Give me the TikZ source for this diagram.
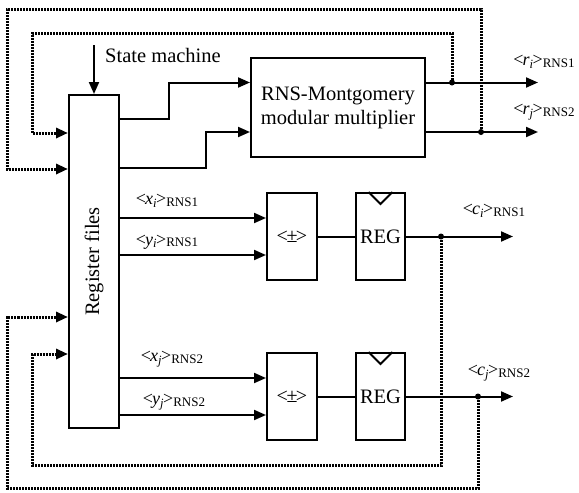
\documentclass[tikz,border=0pt]{standalone}
\usepackage{fontspec}
\setmainfont{Liberation Serif}
\usetikzlibrary{positioning,arrows.meta,calc}
\newcommand{\rnslab}[3]{{\fontsize{18}{20}\selectfont<\kern-1pt\textit{#1}\textsubscript{\textit{#2}}\kern-1pt>}{\fontsize{13}{15}\selectfont\raisebox{-1.5pt}{RNS#3}}}
\tikzset{
  sigarrow/.style={-{Triangle[length=12pt,width=10pt]}, line width=2pt},
  sigline/.style={line width=2pt},
  loopback/.style={-{Triangle[length=12pt,width=10pt]}, line width=3pt, dash pattern=on 2pt off 1pt},
  regfile/.style={draw, line width=2pt, minimum width=50pt, minimum height=333pt, inner sep=0pt, font=\fontsize{20.5}{24}\selectfont},
  mulbox/.style={draw, line width=2pt, minimum width=174pt, minimum height=99pt, align=center, font=\fontsize{20.5}{24}\selectfont},
  addbox/.style={draw, line width=2pt, minimum width=50pt, minimum height=87pt, inner sep=0pt, font=\fontsize{20}{22}\selectfont},
  regbox/.style={draw, line width=2pt, minimum width=49pt, minimum height=87pt, inner sep=0pt, font=\fontsize{20.5}{24}\selectfont},
  junction/.style={circle, fill, inner sep=0pt, minimum size=6pt},
  textlabel/.style={inner sep=0pt}
}
\begin{document}
\begin{tikzpicture}[x=1pt, y=-1pt]
  \useasboundingbox (0,0) rectangle (579,493);
  \node[regfile] (rf) at (94,261.5) {\rotatebox{90}{Register files}};
  \node[textlabel, anchor=west, font=\fontsize{20.5}{24}\selectfont] (sm) at (105,55) {State machine};
  \coordinate (smin) at (94,45);
  \draw[sigarrow] (smin) -- (rf.north);

  \node[mulbox] (mul) at (338,107.5) {RNS-Montgomery\\modular multiplier};
  \node[addbox] (addA) at (292,236.5) {<\kern-1.5pt±\kern-1.5pt>};
  \node[regbox] (regA) at (380.5,236.5) {REG};
  \node[addbox] (addB) at (292,396.5) {<\kern-1.5pt±\kern-1.5pt>};
  \node[regbox] (regB) at (380.5,396.5) {REG};

  \coordinate (mA) at ([yshift=25pt]mul.west);
  \coordinate (mB) at ([yshift=-24.5pt]mul.west);
  \draw[sigarrow] ([yshift=-25pt]rf.north east) -- ++(49,0) |- (mA);
  \draw[sigarrow] ([yshift=-74pt]rf.north east) -- ++(86,0) |- (mB);

  \coordinate (riout) at (538,82.5);
  \coordinate (rjout) at (538,132);
  \draw[sigarrow] ([yshift=25pt]mul.east) -- (riout);
  \draw[sigarrow] ([yshift=-24.5pt]mul.east) -- (rjout);
  \node[textlabel] (rilab) at (544,62) {\rnslab{r}{i}{1}};
  \node[textlabel] (rjlab) at (544,112) {\rnslab{r}{j}{2}};

  \coordinate (xiA) at ([yshift=18.5pt]addA.west);
  \coordinate (yiA) at ([yshift=-18.5pt]addA.west);
  \coordinate (xjB) at ([yshift=18.5pt]addB.west);
  \coordinate (yjB) at ([yshift=-18.5pt]addB.west);
  \draw[sigarrow] (rf.east |- xiA) -- (xiA);
  \draw[sigarrow] (rf.east |- yiA) -- (yiA);
  \draw[sigarrow] (rf.east |- xjB) -- (xjB);
  \draw[sigarrow] (rf.east |- yjB) -- (yjB);
  \node[textlabel] (xilab) at (167,201) {\rnslab{x}{i}{1}};
  \node[textlabel] (yilab) at (167,242) {\rnslab{y}{i}{1}};
  \node[textlabel] (xjlab) at (172,359) {\rnslab{x}{j}{2}};
  \node[textlabel] (yjlab) at (174,402) {\rnslab{y}{j}{2}};

  \draw[sigline] (addA) -- (regA);
  \draw[sigline] (addB) -- (regB);
  \draw[sigline] ([xshift=-12pt]regA.north) -- ([yshift=-12pt]regA.north) -- ([xshift=12pt]regA.north);
  \draw[sigline] ([xshift=-12pt]regB.north) -- ([yshift=-12pt]regB.north) -- ([xshift=12pt]regB.north);
  \coordinate (ciout) at (513,236.5);
  \coordinate (cjout) at (513,396.5);
  \draw[sigarrow] (regA) -- (ciout);
  \draw[sigarrow] (regB) -- (cjout);
  \node[textlabel] (cilab) at (494,211) {\rnslab{c}{i}{1}};
  \node[textlabel] (cjlab) at (499,373) {\rnslab{c}{j}{2}};

  \coordinate (inA) at ([yshift=128.5pt]rf.west);
  \coordinate (inB) at ([yshift=92.5pt]rf.west);
  \coordinate (inC) at ([yshift=-55.5pt]rf.west);
  \coordinate (inD) at ([yshift=-92.5pt]rf.west);
  \coordinate (jri) at (452,82.5);
  \coordinate (jrj) at (481,132);
  \coordinate (jci) at (441,236.5);
  \coordinate (jcj) at (478,396.5);
  \draw[loopback] (jri) |- (32,33) |- (inA);
  \draw[loopback] (jrj) |- (7,9) |- (inB);
  \draw[loopback] (jci) |- (32,465) |- (inD);
  \draw[loopback] (jcj) |- (7,488) |- (inC);
  \node[junction] (dri) at (jri) {};
  \node[junction] (drj) at (jrj) {};
  \node[junction] (dci) at (jci) {};
  \node[junction] (dcj) at (jcj) {};
\end{tikzpicture}
\end{document}
